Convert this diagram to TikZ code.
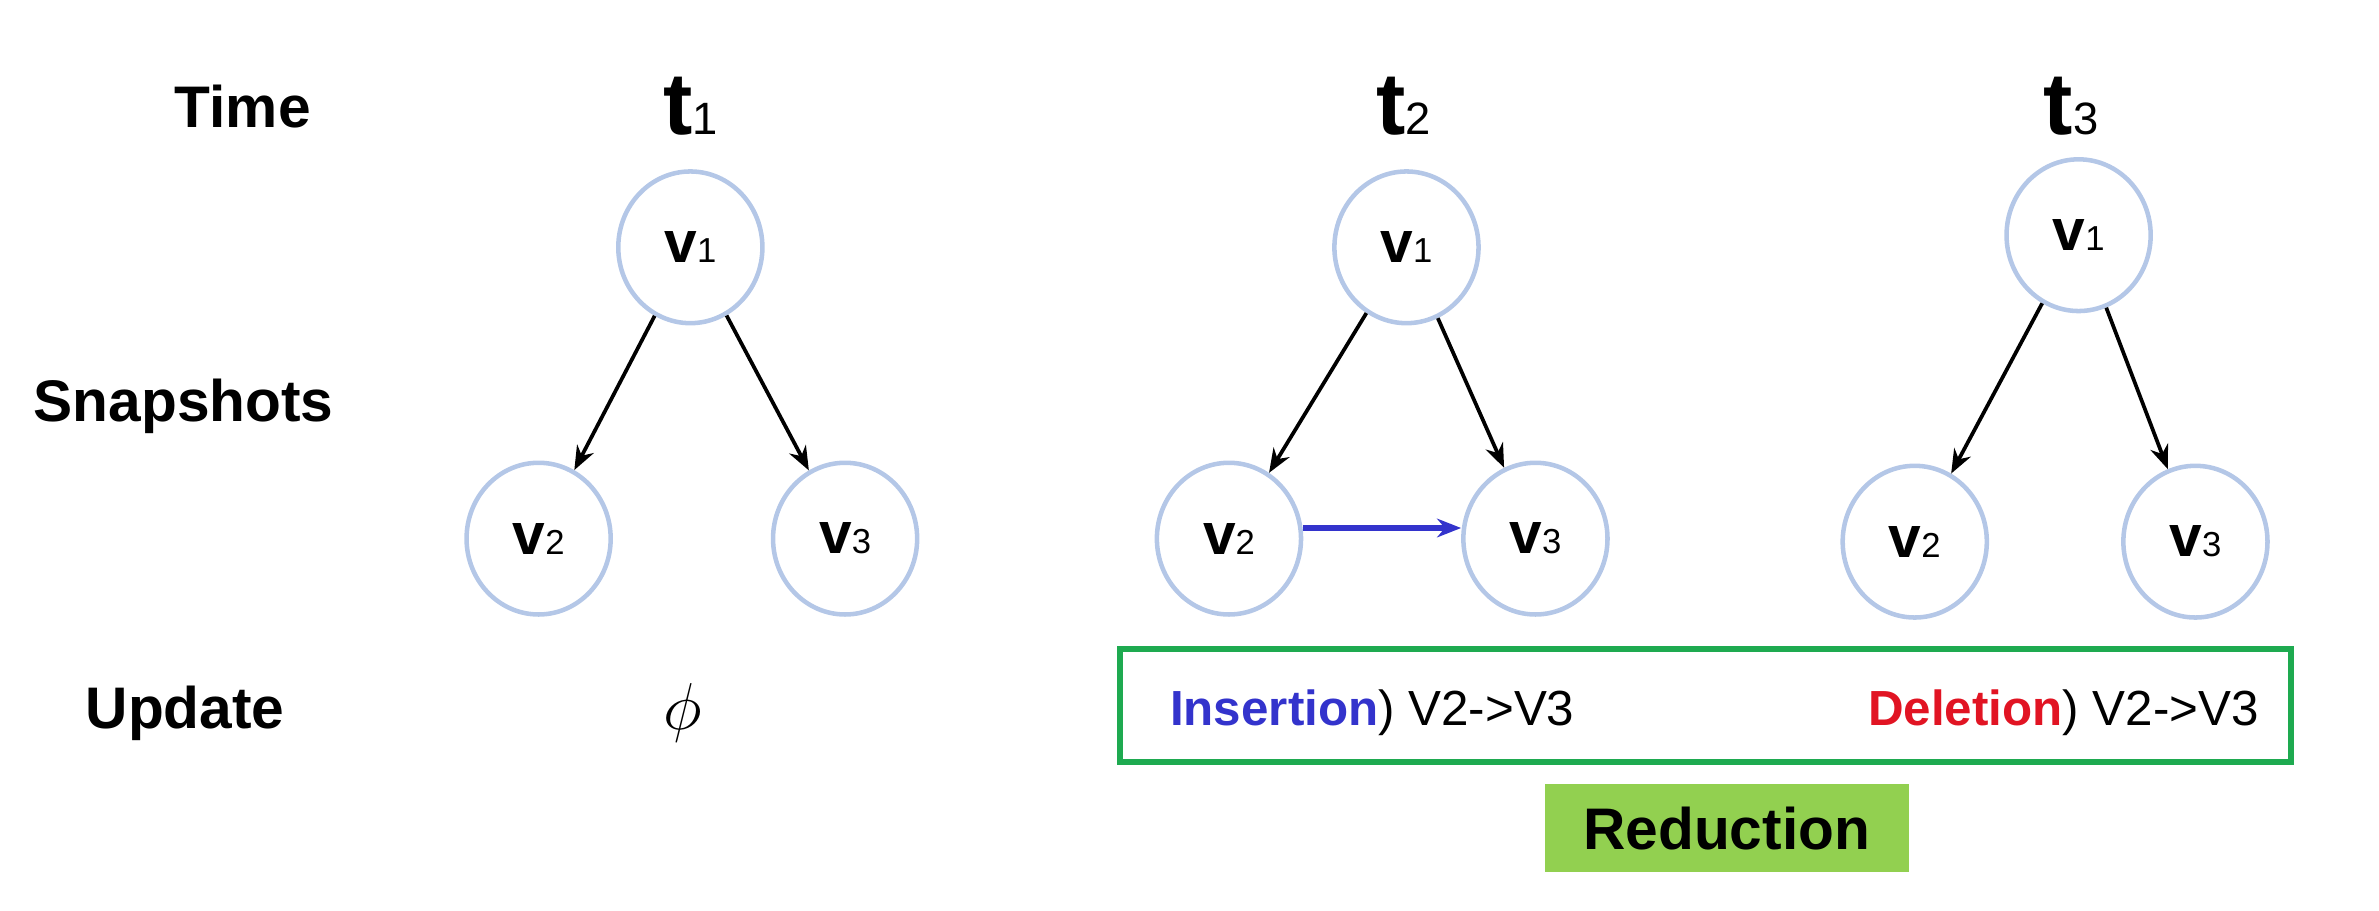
\documentclass[tikz,border=0pt]{standalone}
\usepackage{fontspec}
\setmainfont{Liberation Sans}
\usetikzlibrary{shapes.geometric,arrows.meta}
\definecolor{nodeblue}{RGB}{180,199,231}
\definecolor{insblue}{RGB}{51,51,204}
\definecolor{delred}{RGB}{225,20,35}
\definecolor{boxgreen}{RGB}{30,170,80}
\definecolor{redgreen}{RGB}{146,208,80}
\tikzset{
  vert/.style={draw=nodeblue, line width=1.7pt, ellipse, minimum width=1.9cm, minimum height=2.0cm, inner sep=0pt, font=\fontsize{22}{22}\selectfont\bfseries},
  rowlabel/.style={font=\fontsize{22}{22}\selectfont\bfseries},
  tlabel/.style={font=\fontsize{33}{33}\selectfont\bfseries},
  updtext/.style={anchor=west, font=\fontsize{18.5}{18.5}\selectfont},
  snaparrow/.style={-{Stealth[length=9pt,width=7pt]}, line width=1.4pt},
}
\newcommand{\vlab}[1]{v{\fontsize{13}{13}\selectfont\mdseries #1}}
\newcommand{\tlab}[1]{t{\fontsize{17}{17}\selectfont\mdseries #1}}
\begin{document}
\begin{tikzpicture}
            \useasboundingbox (0,0) rectangle (31.36,-12);
            % row labels
            \node[rowlabel] (time) at (3.20,-1.40) {Time};
            \node[rowlabel] (snap) at (2.42,-5.36) {Snapshots};
            \node[rowlabel] (upd) at (2.44,-9.40) {Update};
            % time steps
            \node[tlabel] (ta) at (9.10,-1.40) {\tlab{1}};
            \node[tlabel] (tb) at (18.50,-1.40) {\tlab{2}};
            \node[tlabel] (tc) at (27.30,-1.40) {\tlab{3}};
            % snapshot at t1
            \node[vert] (a1) at (9.10,-3.26) {\vlab{1}};
            \node[vert] (a2) at (7.10,-7.10) {\vlab{2}};
            \node[vert] (a3) at (11.14,-7.10) {\vlab{3}};
            \draw[snaparrow] (a1) -- (a2);
            \draw[snaparrow] (a1) -- (a3);
            % snapshot at t2
            \node[vert] (b1) at (18.54,-3.26) {\vlab{1}};
            \node[vert] (b2) at (16.20,-7.10) {\vlab{2}};
            \node[vert] (b3) at (20.24,-7.10) {\vlab{3}};
            \draw[snaparrow] (b1) -- (b2);
            \draw[snaparrow] (b1) -- (b3);
            \draw[snaparrow, line width=2pt, color=insblue] ([yshift=0.14cm]b2.east) -- ([yshift=0.14cm]b3.west);
            % snapshot at t3
            \node[vert] (c1) at (27.40,-3.10) {\vlab{1}};
            \node[vert] (c2) at (25.24,-7.14) {\vlab{2}};
            \node[vert] (c3) at (28.94,-7.14) {\vlab{3}};
            \draw[snaparrow] (c1) -- (c2);
            \draw[snaparrow] (c1) -- (c3);
            % updates
            \node (phi) at (9.00,-9.40) {\fontsize{24}{24}\selectfont $\phi$};
            \node[draw=boxgreen, line width=2.3pt, minimum width=15.44cm, minimum height=1.48cm] (updbox) at (22.48,-9.30) {};
            \node[updtext] (ins) at (15.30,-9.40) {\textcolor{insblue}{\bfseries Insertion}) V2->V3};
            \node[updtext] (del) at (24.50,-9.40) {\textcolor{delred}{\bfseries Deletion}) V2->V3};
            \node[rowlabel, fill=redgreen, minimum width=4.8cm, minimum height=1.16cm] (red) at (22.76,-10.92) {Reduction};
\end{tikzpicture}
\end{document}
